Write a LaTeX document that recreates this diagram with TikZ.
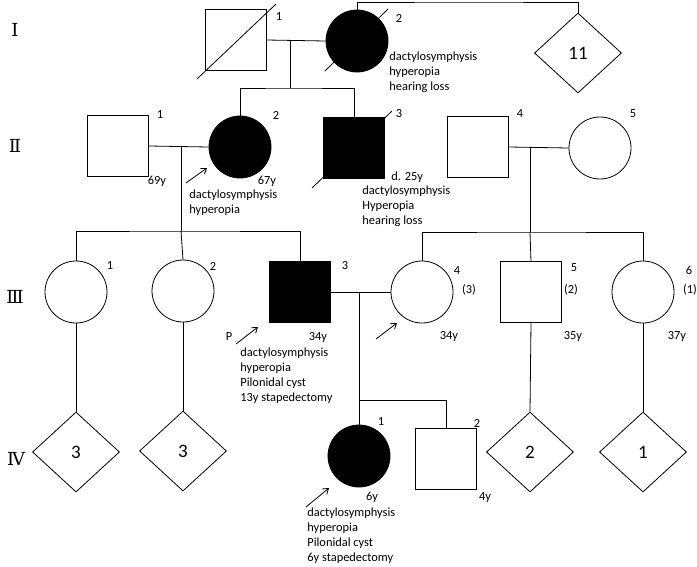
\documentclass[tikz,border=0pt]{standalone}
\usepackage{fontspec}
\setmainfont{Carlito}
\newfontfamily\gennumfont{DejaVu Serif}
\usetikzlibrary{positioning,calc,shapes.geometric,arrows.meta}

\begin{document}
\begin{tikzpicture}[x=1pt, y=-1pt, line width=0.8pt,
				male/.style={rectangle, draw=black, minimum size=61pt, inner sep=0pt},
				female/.style={circle, draw=black, minimum size=62pt, inner sep=0pt},
				sibs/.style={diamond, draw=black, minimum width=87pt, minimum height=80pt, inner sep=0pt, font=\fontsize{19}{19}\selectfont},
				affected/.style={fill=black},
				gen/.style={font=\fontsize{18}{18}\gennumfont, inner sep=0pt},
				num/.style={font=\fontsize{12.4}{12.4}\selectfont, inner sep=0pt},
				info/.style={font=\fontsize{12.4}{15}\selectfont, align=left, inner sep=0pt, anchor=north west},
				proband/.style={-{Straight Barb[length=5pt,width=7pt]}}
			]
			\useasboundingbox (0,0) rectangle (697,566);
			% generations
			\node[gen] (genI) at (15,30) {Ⅰ};
			\node[gen] (genII) at (15,146) {Ⅱ};
			\node[gen] (genIII) at (15,297) {Ⅲ};
			\node[gen] (genIV) at (16,459) {Ⅳ};
			% generation I
			\node[male] (I1) at (236,40) {};
			\node[female, affected] (I2) at (357,41) {};
			\node[sibs] (I11) at (578,53) {11};
			\node[num] (I1n) at (279,17) {1};
			\node[num] (I2n) at (399,18) {2};
			\node[info] (I2info) at (389,51) {dactylosymphysis\\hyperopia\\hearing loss};
			% generation II
			\node[male] (II1) at (118,146) {};
			\node[female, affected] (II2) at (240,147) {};
			\node[male, affected] (II3) at (354,148) {};
			\node[male] (II4) at (478,147) {};
			\node[female] (II5) at (600,148) {};
			\node[num] (II1n) at (160,115) {1};
			\node[num] (II2n) at (276,115) {2};
			\node[num] (II3n) at (399,114) {3};
			\node[num] (II4n) at (520,114) {4};
			\node[num] (II5n) at (633,114) {5};
			\node[num] (II1age) at (157,181) {69y};
			\node[num] (II2age) at (267,181) {67y};
			\node[num, anchor=west] (II3age) at (391,177) {d. 25y};
			\node[info] (II2info) at (189,189) {dactylosymphysis\\hyperopia};
			\node[info] (II3info) at (362,185) {dactylosymphysis\\Hyperopia\\hearing loss};
			% generation III
			\node[female] (III1) at (76,292) {};
			\node[female] (III2) at (183,291) {};
			\node[male, affected] (III3) at (300,292) {};
			\node[female] (III4) at (422,292) {};
			\node[male] (III5) at (531,292) {};
			\node[female] (III6) at (643,292) {};
			\node[num] (III1n) at (110,266) {1};
			\node[num] (III2n) at (213,266) {2};
			\node[num] (III3n) at (345,266) {3};
			\node[num] (III4n) at (457,271) {4};
			\node[num] (III5n) at (574,268) {5};
			\node[num] (III6n) at (689,270) {6};
			\node[num] (III4k) at (469,290) {(3)};
			\node[num] (III5k) at (571,290) {(2)};
			\node[num] (III6k) at (690,290) {(1)};
			\node[num] (III3age) at (318,337) {34y};
			\node[num] (III4age) at (449,336) {34y};
			\node[num] (III5age) at (573,336) {35y};
			\node[num] (III6age) at (677,336) {37y};
			\node[num] (P) at (229,337) {P};
			\node[info] (III3info) at (240,347) {dactylosymphysis\\hyperopia\\Pilonidal cyst\\13y stapedectomy};
			% generation IV
			\node[sibs] (IVa) at (76,452) {3};
			\node[sibs] (IVb) at (183,451) {3};
			\node[female, affected] (IV1) at (359,456) {};
			\node[male] (IV2) at (446,459) {};
			\node[sibs] (IVc) at (530,452) {2};
			\node[sibs] (IVd) at (643,452) {1};
			\node[num] (IV1n) at (381,422) {1};
			\node[num] (IV2n) at (477,423) {2};
			\node[num] (IV1age) at (372,497) {6y};
			\node[num] (IV2age) at (485,498) {4y};
			\node[info] (IV1info) at (307,507) {dactylosymphysis\\hyperopia\\Pilonidal cyst\\6y stapedectomy};
			% lines of descent
			\coordinate (m1) at (290,40);
			\coordinate (s1) at (290,88);
			\coordinate (s0) at (470,2);
			\coordinate (m2) at (181,146);
			\coordinate (s2) at (181,231);
			\coordinate (m3) at (530,148);
			\coordinate (s3) at (530,232);
			\coordinate (m4) at (359,292);
			\coordinate (s4) at (359,400);
			\draw (I1.east) -- (I2.west);
			\draw (m1) -- (s1);
			\draw (II2.north) |- (s1) -| (II3.north);
			\draw (I2.north) |- (s0) -| (I11.north);
			\draw (II1.east) -- (II2.west);
			\draw (m2) -- (s2);
			\draw (III1.north) |- (s2) -| (III3.north);
			\draw (s2) -- (III2.north);
			\draw (II4.east) -- (II5.west);
			\draw (m3) -- (s3);
			\draw (III4.north) |- (s3) -| (III6.north);
			\draw (s3) -- (III5.north);
			\draw (III3.east) -- (III4.west);
			\draw (m4) -- (IV1.north);
			\draw (s4) -| (IV2.north);
			\draw (III1.south) -- (IVa.north);
			\draw (III2.south) -- (IVb.north);
			\draw (III5.south) -- (IVc.north);
			\draw (III6.south) -- (IVd.north);
			% deceased
			\draw ($(I1.south west)+(-8,8)$) -- ($(I1.north east)+(9,-5)$);
			\draw ($(I2.center)+(-32,30)$) -- ($(I2.center)+(31,-32)$);
			\draw ($(II3.south west)+(-11,9)$) -- ($(II3.north east)+(7,-6)$);
			% probands
			\coordinate (a1t) at (186,183);
			\coordinate (a1h) at (207,168);
			\coordinate (a2t) at (236,344);
			\coordinate (a2h) at (258,327);
			\coordinate (a3t) at (376,339);
			\coordinate (a3h) at (397,323);
			\coordinate (a4t) at (306,507);
			\coordinate (a4h) at (329,488);
			\begin{scope}[proband]
			\draw (a1t) -- (a1h);
			\draw (a2t) -- (a2h);
			\draw (a3t) -- (a3h);
			\draw (a4t) -- (a4h);
			\end{scope}
			\end{tikzpicture}
\end{document}
